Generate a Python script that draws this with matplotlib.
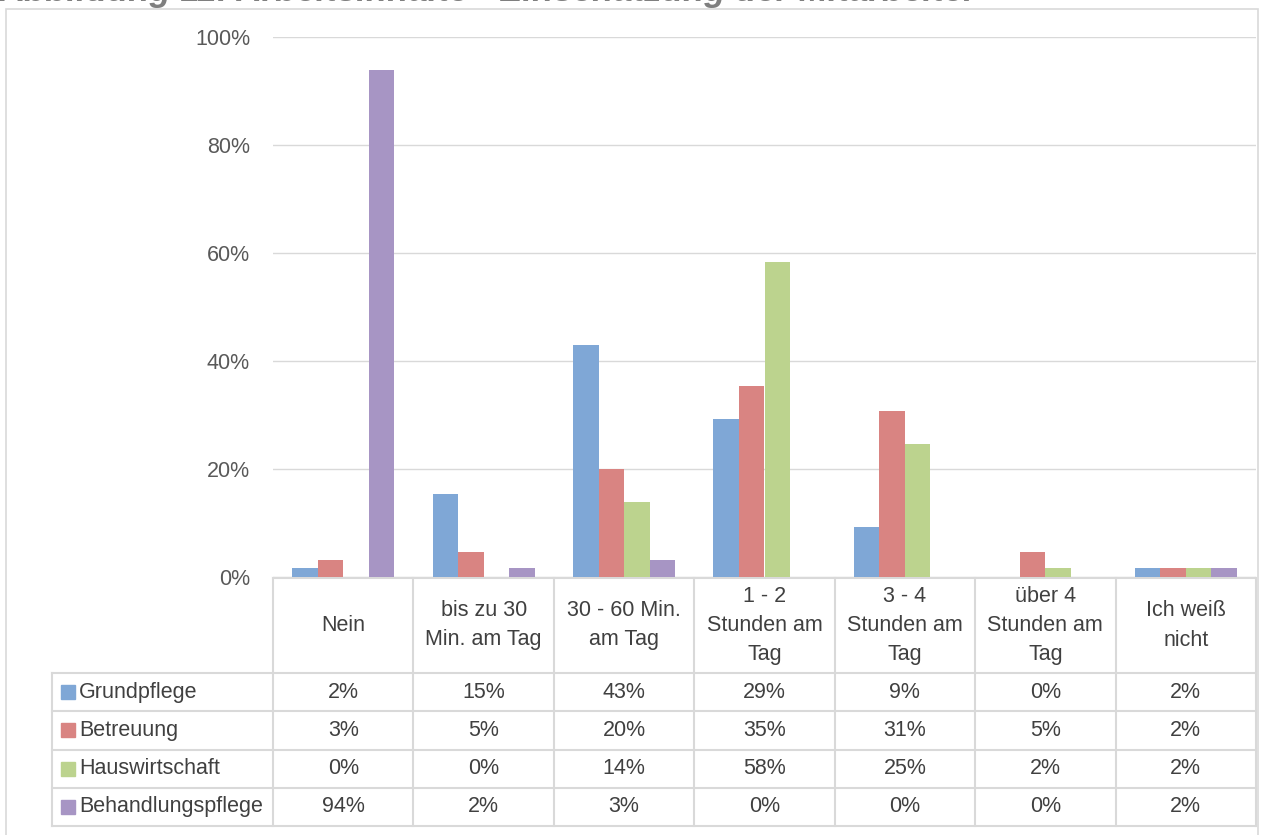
import matplotlib.pyplot as plt
from matplotlib.patches import Rectangle
from matplotlib.transforms import blended_transform_factory

categories = ["Nein", "bis zu 30\nMin. am Tag", "30 - 60 Min.\nam Tag", "1 - 2\nStunden am\nTag",
              "3 - 4\nStunden am\nTag", "über 4\nStunden am\nTag", "Ich weiß\nnicht"]
series = ["Grundpflege", "Betreuung", "Hauswirtschaft", "Behandlungspflege"]
grundpflege = [1.6, 15.4, 43.0, 29.2, 9.2, 0.0, 1.6]
betreuung = [3.1, 4.6, 20.0, 35.4, 30.8, 4.6, 1.6]
hauswirtschaft = [0.0, 0.0, 13.8, 58.4, 24.6, 1.6, 1.6]
behandlungspflege = [93.9, 1.6, 3.1, 0.0, 0.0, 0.0, 1.6]
values = [grundpflege, betreuung, hauswirtschaft, behandlungspflege]
colors = ["#7fa7d6", "#d98482", "#bcd38e", "#a795c4"]
title = "Abbildung 11: Arbeitsinhalte - Einschätzung der Mitarbeiter"

plt.rcParams['font.family'] = ['Liberation Sans', 'DejaVu Sans']
W, H = 1287, 835
fig = plt.figure(figsize=(W / 100, H / 100), dpi=100)
fs = 15.5

# plot area in pixels
left, right, top, bottom = 273, 1256, 37, 577
ax = fig.add_axes([left / W, 1 - bottom / H, (right - left) / W, (bottom - top) / H])

n = len(categories)
bw = 0.182
for k, (name, vals) in enumerate(zip(series, values)):
    xs = [i + (k - 1.5) * bw for i in range(n)]
    ax.bar(xs, vals, width=bw, color=colors[k], label=name, zorder=3)

ax.set_xlim(-0.5, n - 0.5)
ax.set_ylim(0, 100)
ax.set_yticks(range(0, 101, 20))
ax.set_yticklabels([f"{t}%" for t in range(0, 101, 20)], fontsize=fs, color="#595959")
ax.tick_params(axis='y', length=0, pad=16.5)
ax.set_xticks([])
ax.grid(axis='y', color="#d9d9d9", linewidth=1, zorder=0)
for s in ax.spines.values():
    s.set_visible(False)

# data table below the chart, in pixel coordinates of the figure
tr = blended_transform_factory(ax.transData, fig.transFigure)
def fy(py):
    return 1 - py / H

line_c = "#d9d9d9"
txt_c = "#404040"
head_top, head_bot = 578, 673
row_h = (826 - 673) / 4
px_unit = (right - left) / n
lab_left = -0.5 - (273 - 52) / px_unit

# header cells
for i, cat in enumerate(categories):
    ax.text(i, fy((head_top + head_bot) / 2), cat, transform=tr, ha='center', va='center',
            fontsize=fs, color=txt_c, linespacing=1.5, clip_on=False)
# rows
for k, (name, vals) in enumerate(zip(series, values)):
    y0 = head_bot + k * row_h
    yc = fy(y0 + row_h / 2)
    ax.add_patch(Rectangle((lab_left + 9 / px_unit, fy(y0 + row_h / 2 + 7)), 14 / px_unit, 14 / H,
                           transform=tr, color=colors[k], clip_on=False))
    ax.text(lab_left + 27 / px_unit, yc, name, transform=tr, ha='left', va='center',
            fontsize=fs, color=txt_c, clip_on=False)
    for i, v in enumerate(vals):
        ax.text(i, yc, f"{v:.0f}%", transform=tr, ha='center', va='center',
                fontsize=fs, color=txt_c, clip_on=False)

# grid lines of the table
for i in range(n + 1):
    ax.plot([i - 0.5, i - 0.5], [fy(head_top), fy(head_bot + 4 * row_h)], transform=tr,
            color=line_c, lw=1.5, clip_on=False)
ax.plot([lab_left, lab_left], [fy(head_bot), fy(head_bot + 4 * row_h)], transform=tr,
        color=line_c, lw=1.5, clip_on=False)
ax.plot([-0.5, n - 0.5], [fy(head_top), fy(head_top)], transform=tr, color=line_c, lw=1.5, clip_on=False)
for k in range(5):
    y = fy(head_bot + k * row_h)
    ax.plot([lab_left, n - 0.5], [y, y], transform=tr, color=line_c, lw=1.5, clip_on=False)

# chart frame and clipped caption
fig.patches.append(Rectangle((6 / W, -0.01), 1252 / W, fy(8.5) + 0.01, transform=fig.transFigure,
                             fill=False, edgecolor="#d9d9d9", lw=1.2))
fig.text(0.0, fy(1.5), title, ha='left', va='baseline', fontsize=25, fontweight='bold',
         fontstyle='italic', color="#7f7f7f")

fig.savefig("out.png", dpi=100)
